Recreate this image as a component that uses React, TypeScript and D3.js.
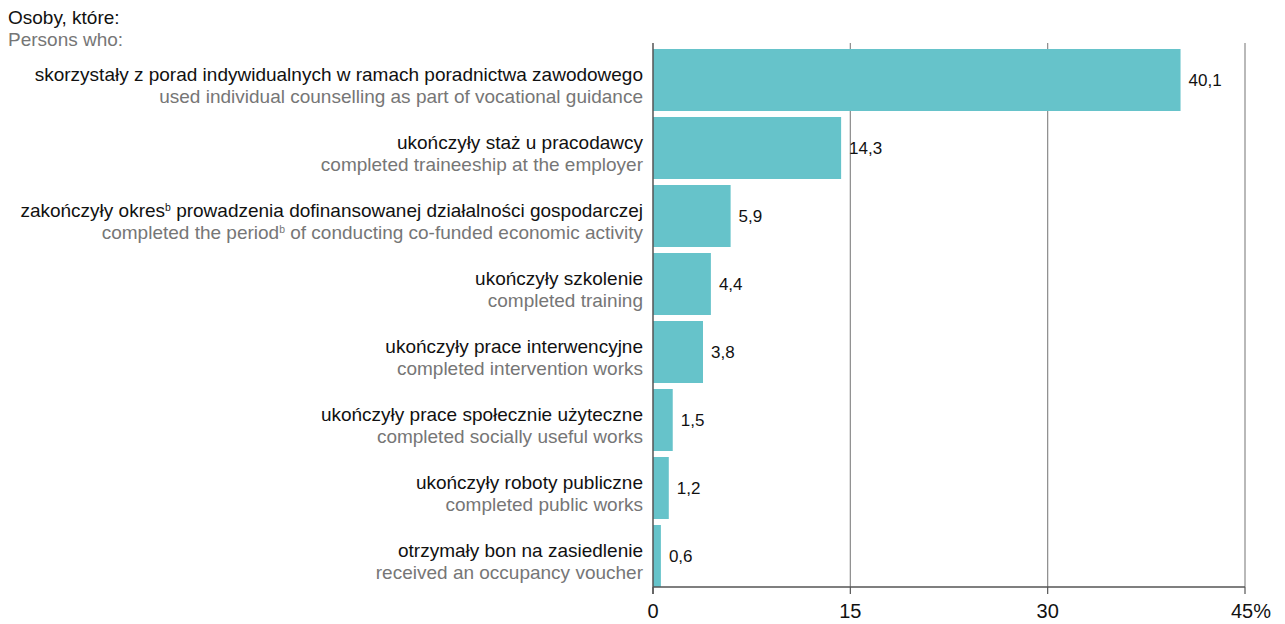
import React from "react";
import * as d3 from "d3";

const categoriesPl = [
  "skorzystały z porad indywidualnych w ramach poradnictwa zawodowego",
  "ukończyły staż u pracodawcy",
  "zakończyły okres|b| prowadzenia dofinansowanej działalności gospodarczej",
  "ukończyły szkolenie",
  "ukończyły prace interwencyjne",
  "ukończyły prace społecznie użyteczne",
  "ukończyły roboty publiczne",
  "otrzymały bon na zasiedlenie",
];
const categoriesEn = [
  "used individual counselling as part of vocational guidance",
  "completed traineeship at the employer",
  "completed the period|b| of conducting co-funded economic activity",
  "completed training",
  "completed intervention works",
  "completed socially useful works",
  "completed public works",
  "received an occupancy voucher",
];
const values = [40.1, 14.3, 5.9, 4.4, 3.8, 1.5, 1.2, 0.6];
const ticks = [0, 15, 30, 45];
const titlePl = "Osoby, które:";
const titleEn = "Persons who:";

const W = 1285;
const H = 624;
const FONT = "'Liberation Sans', Arial, sans-serif";
const BAR = "#66C3CA";
const GREY = "#767676";
const GRID = "#8a8a8a";
const SIZE = 19;

function lineParts(text: string, keyBase: string) {
  const parts = text.split("|");
  return parts.map((p, i) =>
    i % 2 === 1 ? (
      <tspan key={keyBase + i} fontSize={SIZE * 0.55} dy={-SIZE * 0.3}>
        {p}
      </tspan>
    ) : (
      <tspan key={keyBase + i} dy={i > 0 ? SIZE * 0.3 : 0}>
        {p}
      </tspan>
    )
  );
}

export default function App() {
  const x = d3.scaleLinear().domain([0, 45]).range([653, 1245]);
  const idx = values.map((_, i) => i);
  const y = d3
    .scaleBand<number>()
    .domain(idx)
    .range([46, 590])
    .paddingInner(6 / 68)
    .paddingOuter(3 / 68);
  const axisY = 587;
  const fmt = (v: number) => d3.format(".1f")(v).replace(".", ",");
  const labelX = 643;

  return (
    <svg width={W} height={H} style={{ position: "absolute", left: 0, top: 0 }}>
      <rect width={W} height={H} fill="#fff" />
      <text x={8} y={24} fontSize={SIZE} fontFamily={FONT} fill="#111">
        <tspan x={8} y={24}>{titlePl}</tspan>
        <tspan x={8} y={46} fill={GREY}>{titleEn}</tspan>
      </text>
      {ticks.slice(1).map((t) => (
        <line key={t} x1={x(t)} x2={x(t)} y1={43} y2={axisY} stroke={GRID} strokeWidth={1.2} />
      ))}
      {values.map((v, i) => {
        const y0 = y(i)!;
        const bw = y.bandwidth();
        const cy = y0 + bw / 2;
        return (
          <g key={i}>
            <rect x={x(0)} y={y0} width={x(v) - x(0)} height={bw} fill={BAR} />
            <text x={x(v) + 8} y={cy + 6} fontSize={17} fontFamily={FONT} fill="#111">
              {fmt(v)}
            </text>
            <text x={labelX} y={cy + 1} textAnchor="end" fontSize={SIZE} fontFamily={FONT} fill="#111">
              <tspan x={labelX} y={cy + 1}>{lineParts(categoriesPl[i], "p")}</tspan>
              <tspan x={labelX} y={cy + 22.5} fill={GREY}>{lineParts(categoriesEn[i], "e")}</tspan>
            </text>
          </g>
        );
      })}
      <line x1={x(0)} x2={x(0)} y1={43} y2={axisY + 7} stroke="#555" strokeWidth={1.5} />
      <line x1={x(0)} x2={x(45)} y1={axisY} y2={axisY} stroke="#555" strokeWidth={1.5} />
      {ticks.map((t) => (
        <g key={t}>
          <line x1={x(t)} x2={x(t)} y1={axisY} y2={axisY + 7} stroke="#555" strokeWidth={1.2} />
          <text
            x={x(t) + (t === 45 ? 6 : 0)}
            y={618}
            fontSize={20}
            fontFamily={FONT}
            fill="#111"
            textAnchor="middle"
          >
            {t}
            {t === 45 ? "%" : ""}
          </text>
        </g>
      ))}
    </svg>
  );
}
